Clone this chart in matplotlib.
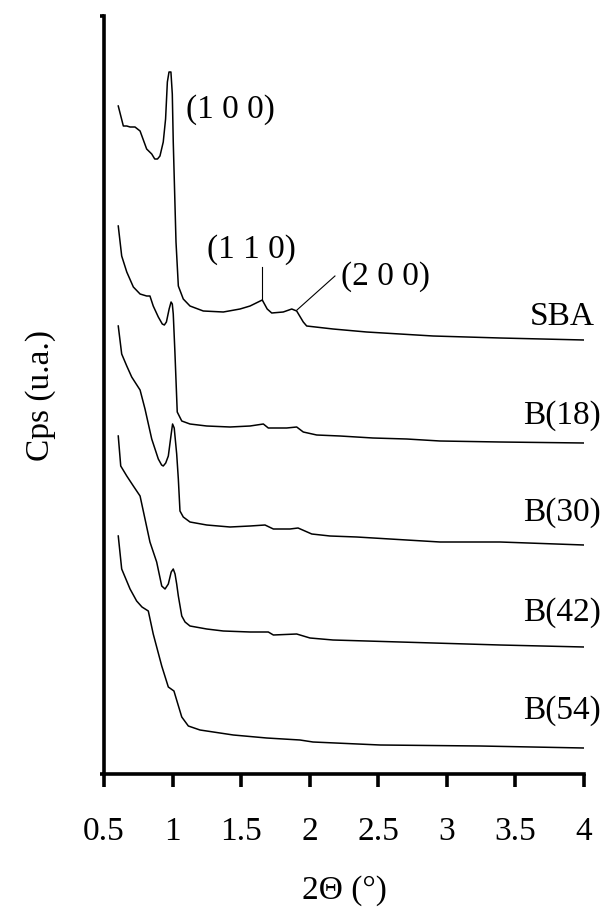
import matplotlib
matplotlib.use("Agg")
import matplotlib.pyplot as plt

plt.rcParams['font.family'] = ['Liberation Serif', 'DejaVu Serif']

# ---- data (2-theta in degrees, intensity in arbitrary counts, already stacked) ----
sba_x = [0.604, 0.641, 0.666, 0.690, 0.726, 0.763, 0.811, 0.848, 0.870, 0.890, 0.908, 0.932,
         0.949, 0.962, 0.974, 0.988, 0.998, 1.005, 1.025, 1.042, 1.078, 1.127, 1.224, 1.370,
         1.492, 1.565, 1.654, 1.690, 1.723, 1.807, 1.869, 1.905, 1.953, 1.978, 2.170, 2.415,
         2.900, 3.390, 4.000]
sba_y = [668, 648, 648, 647, 647, 643, 625, 620, 615, 615, 618, 632,
         655, 692, 702, 702, 680, 632, 532, 488, 475, 468, 463, 462,
         465, 468, 474, 465, 461, 462, 465, 463, 452, 448, 445, 442,
         438, 436, 434]

b18_x = [0.604, 0.629, 0.666, 0.714, 0.763, 0.811, 0.835, 0.859, 0.896, 0.925, 0.940, 0.955,
         0.975, 0.989, 0.998, 1.005, 1.017, 1.034, 1.067, 1.127, 1.249, 1.419, 1.565, 1.662,
         1.698, 1.759, 1.832, 1.905, 1.953, 2.051, 2.221, 2.461, 2.707, 2.950, 3.388, 4.000]
b18_y = [548, 518, 502, 487, 480, 478, 478, 468, 457, 450, 449, 452,
         465, 472, 470, 460, 422, 362, 353, 350, 348, 347, 348, 350,
         346, 346, 346, 347, 342, 339, 338, 336, 335, 333, 332, 331]

b30_x = [0.604, 0.629, 0.666, 0.702, 0.763, 0.799, 0.848, 0.896, 0.920, 0.932, 0.950, 0.969,
         0.990, 1.000, 1.012, 1.030, 1.042, 1.054, 1.078, 1.127, 1.249, 1.419, 1.565, 1.674,
         1.735, 1.856, 1.915, 2.015, 2.148, 2.343, 2.585, 2.950, 3.388, 4.000]
b30_y = [448, 420, 408, 397, 384, 365, 335, 315, 309, 308, 311, 318,
         340, 350, 346, 320, 295, 263, 257, 252, 249, 247, 248, 249,
         245, 245, 246, 240, 238, 237, 235, 232, 232, 229]

b42_x = [0.604, 0.622, 0.666, 0.714, 0.763, 0.799, 0.835, 0.884, 0.921, 0.945, 0.969, 0.990,
         1.005, 1.018, 1.030, 1.042, 1.067, 1.091, 1.127, 1.249, 1.370, 1.565, 1.698, 1.735,
         1.905, 2.002, 2.170, 2.658, 3.388, 4.000]
b42_y = [338, 308, 298, 288, 278, 255, 232, 212, 188, 185, 190, 202,
         205, 200, 190, 178, 158, 152, 148, 145, 143, 142, 142, 139,
         140, 136, 134, 132, 129, 127]

b54_x = [0.604, 0.629, 0.690, 0.738, 0.777, 0.823, 0.859, 0.921, 0.969, 1.010, 1.034, 1.067,
         1.115, 1.200, 1.443, 1.686, 1.929, 2.024, 2.513, 3.242, 4.000]
b54_y = [238, 205, 185, 173, 167, 163, 140, 108, 87, 83, 72, 57,
         48, 44, 39, 36, 34, 32, 29, 28, 26]

sample_names = ['SBA', 'B(18)', 'B(30)', 'B(42)', 'B(54)']
name_y = [458, 359, 262, 162, 64]
xtick_vals = [0.5, 1, 1.5, 2, 2.5, 3, 3.5, 4]
xtick_labels = ['0.5', '1', '1.5', '2', '2.5', '3', '3.5', '4']

peak_labels = ['(1 0 0)', '(1 1 0)', '(2 0 0)']
peak_label_pos = [(1.42, 665), (1.576, 525), (2.55, 498)]
peak_leaders = [None, ((1.654, 507), (1.654, 474)), ((2.184, 498), (1.907, 464))]

FS = 24

# ---- figure ----
fig = plt.figure(figsize=(6.03, 9.12), dpi=100)
ax = fig.add_axes([104/603, 1 - 775/912, 480/603, 758/912])

for xs, ys in [(sba_x, sba_y), (b18_x, b18_y), (b30_x, b30_y), (b42_x, b42_y), (b54_x, b54_y)]:
    ax.plot(xs, ys, color='black', lw=1.1, solid_joinstyle='round')

ax.set_xlim(0.5, 4)
ax.set_ylim(0, 758)
ax.set_xticks(xtick_vals)
ax.set_xticklabels(xtick_labels)
ax.set_yticks([0, 758])
ax.set_yticklabels([])

for s in ['top', 'right']:
    ax.spines[s].set_visible(False)
for s in ['left', 'bottom']:
    ax.spines[s].set_linewidth(2.6)

ax.tick_params(axis='x', direction='out', length=9, width=2.6, labelsize=FS, pad=21)
ax.tick_params(axis='y', direction='out', length=3, width=2.6)

ax.set_xlabel('2\u0398 (\u00b0)', fontsize=FS, labelpad=20)
ax.set_ylabel('Cps (u.a.)', fontsize=FS, labelpad=28)

for name, yy in zip(sample_names, name_y):
    ax.text(3.84, yy, name, fontsize=FS, ha='center', va='center', clip_on=False)

for lab, pos, lead in zip(peak_labels, peak_label_pos, peak_leaders):
    ax.text(pos[0], pos[1], lab, fontsize=FS, ha='center', va='center')
    if lead is not None:
        ax.plot([lead[0][0], lead[1][0]], [lead[0][1], lead[1][1]], color='black', lw=0.8)

fig.savefig('out.png', dpi=100)
